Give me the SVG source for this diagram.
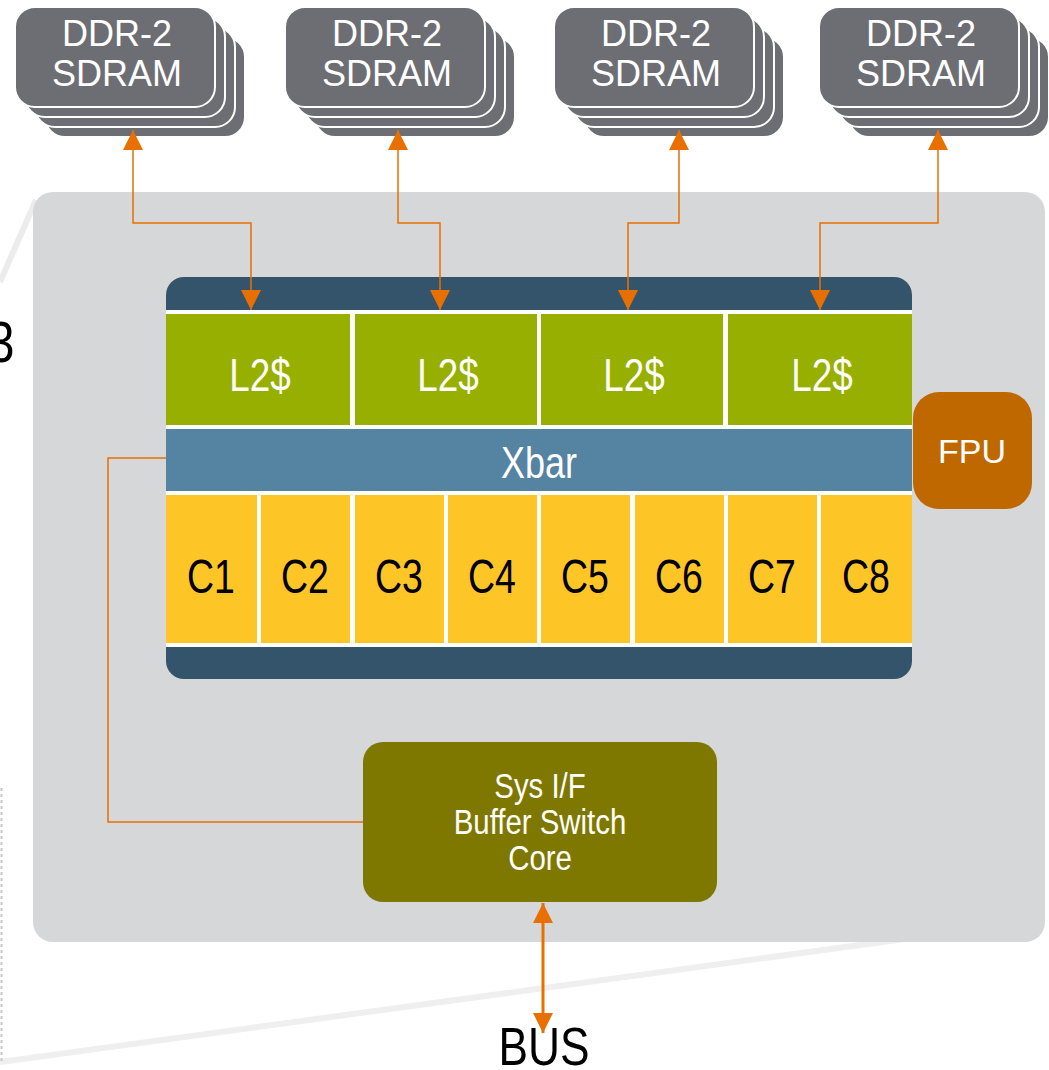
<svg xmlns="http://www.w3.org/2000/svg" width="1049" height="1070" viewBox="0 0 1049 1070">
<style>
.card{fill:#6d6e73;stroke:#ffffff;stroke-width:2}
.ddr{font-family:"Liberation Sans",Arial,sans-serif;font-size:36px;fill:#ffffff;text-anchor:middle}
.narrow{font-family:"Liberation Sans",Arial,sans-serif;text-anchor:middle}
.l2{fill:#97b000}
.core{fill:#fec526}
.wire{fill:none;stroke:#e87000;stroke-width:1.5}
</style>
<defs>
<marker id="ah" viewBox="0 0 20 20" refX="20" refY="10" markerWidth="20" markerHeight="20" markerUnits="userSpaceOnUse" orient="auto-start-reverse">
<path d="M0,0 L20,10 L0,20 Z" fill="#e87000"/>
</marker>
<g id="stackshape">
<rect class="card" x="30" y="30" width="200" height="100" rx="20"/>
<rect class="card" x="20" y="20" width="200" height="100" rx="20"/>
<rect class="card" x="10" y="10" width="200" height="100" rx="20"/>
<rect class="card" x="0" y="0" width="200" height="100" rx="20"/>
</g>
</defs>
<rect width="1049" height="1070" fill="#ffffff"/>
<g id="background">
<line x1="36" y1="200" x2="0" y2="282" stroke="#ececec" stroke-width="6"/>
<line x1="0" y1="1062" x2="1000" y2="926" stroke="#efefef" stroke-width="6"/>
<line x1="1.5" y1="788" x2="1.5" y2="1062" stroke="#c8c8c8" stroke-width="2" stroke-dasharray="3,3"/>
<text transform="translate(-12,362) scale(0.82,1)" font-family="Liberation Sans,Arial,sans-serif" font-size="58" fill="#000000">3</text>
<rect id="panel" x="33" y="192" width="1012" height="750" rx="20" fill="#d6d7d9"/>
</g>

<g id="ddr1" transform="translate(15,7)"><use href="#stackshape"/><text class="ddr" x="102" y="39">DDR-2</text><text class="ddr" x="102" y="79">SDRAM</text></g>
<g id="ddr2" transform="translate(285,7)"><use href="#stackshape"/><text class="ddr" x="102" y="39">DDR-2</text><text class="ddr" x="102" y="79">SDRAM</text></g>
<g id="ddr3" transform="translate(554,7)"><use href="#stackshape"/><text class="ddr" x="102" y="39">DDR-2</text><text class="ddr" x="102" y="79">SDRAM</text></g>
<g id="ddr4" transform="translate(819,7)"><use href="#stackshape"/><text class="ddr" x="102" y="39">DDR-2</text><text class="ddr" x="102" y="79">SDRAM</text></g>

<g id="chip">
<rect x="166" y="277" width="746" height="402" rx="18" fill="#34546b"/>
<rect x="166" y="310" width="746" height="337" fill="#ffffff"/>
</g>
<g id="l2-1"><rect class="l2" x="166" y="314" width="184" height="111"/><text class="narrow" transform="translate(260,391) scale(0.8,1)" font-size="46" fill="#ffffff">L2$</text></g>
<g id="l2-2"><rect class="l2" x="355" y="314" width="182" height="111"/><text class="narrow" transform="translate(448,391) scale(0.8,1)" font-size="46" fill="#ffffff">L2$</text></g>
<g id="l2-3"><rect class="l2" x="541" y="314" width="182" height="111"/><text class="narrow" transform="translate(634,391) scale(0.8,1)" font-size="46" fill="#ffffff">L2$</text></g>
<g id="l2-4"><rect class="l2" x="728" y="314" width="184" height="111"/><text class="narrow" transform="translate(822,391) scale(0.8,1)" font-size="46" fill="#ffffff">L2$</text></g>
<g id="xbar"><rect x="166" y="429" width="746" height="62" fill="#5583a2"/><text class="narrow" transform="translate(539,478) scale(0.8,1)" font-size="45" fill="#ffffff">Xbar</text></g>
<g id="c1"><rect class="core" x="166" y="495" width="91" height="148"/><text class="narrow" transform="translate(211,593) scale(0.78,1)" font-size="48" fill="#000000">C1</text></g>
<g id="c2"><rect class="core" x="261" y="495" width="89" height="148"/><text class="narrow" transform="translate(305,593) scale(0.78,1)" font-size="48" fill="#000000">C2</text></g>
<g id="c3"><rect class="core" x="355" y="495" width="89" height="148"/><text class="narrow" transform="translate(399,593) scale(0.78,1)" font-size="48" fill="#000000">C3</text></g>
<g id="c4"><rect class="core" x="448" y="495" width="89" height="148"/><text class="narrow" transform="translate(492,593) scale(0.78,1)" font-size="48" fill="#000000">C4</text></g>
<g id="c5"><rect class="core" x="541" y="495" width="89" height="148"/><text class="narrow" transform="translate(585,593) scale(0.78,1)" font-size="48" fill="#000000">C5</text></g>
<g id="c6"><rect class="core" x="635" y="495" width="89" height="148"/><text class="narrow" transform="translate(679,593) scale(0.78,1)" font-size="48" fill="#000000">C6</text></g>
<g id="c7"><rect class="core" x="728" y="495" width="89" height="148"/><text class="narrow" transform="translate(772,593) scale(0.78,1)" font-size="48" fill="#000000">C7</text></g>
<g id="c8"><rect class="core" x="821" y="495" width="91" height="148"/><text class="narrow" transform="translate(866,593) scale(0.78,1)" font-size="48" fill="#000000">C8</text></g>

<g id="fpu"><rect x="913" y="392" width="119" height="117" rx="26" fill="#c06800"/><text x="972" y="463" font-family="Liberation Sans,Arial,sans-serif" font-size="34" fill="#ffffff" text-anchor="middle">FPU</text></g>

<g id="sysif"><rect x="363" y="742" width="354" height="160" rx="20" fill="#7f7800"/>
<text class="narrow" transform="translate(540,798) scale(0.84,1)" font-size="35" fill="#ffffff">Sys I/F</text>
<text class="narrow" transform="translate(540,834) scale(0.84,1)" font-size="35" fill="#ffffff">Buffer Switch</text>
<text class="narrow" transform="translate(540,870) scale(0.84,1)" font-size="35" fill="#ffffff">Core</text></g>

<text id="bus" class="narrow" transform="translate(544,1065) scale(0.82,1)" font-size="54" fill="#000000">BUS</text>

<g id="connectors">
<path class="wire" d="M133,130 V223 H251 V310" marker-start="url(#ah)" marker-end="url(#ah)"/>
<path class="wire" d="M398,130 V223 H440 V310" marker-start="url(#ah)" marker-end="url(#ah)"/>
<path class="wire" d="M679,130 V223 H628 V310" marker-start="url(#ah)" marker-end="url(#ah)"/>
<path class="wire" d="M938,130 V223 H820 V310" marker-start="url(#ah)" marker-end="url(#ah)"/>
<path class="wire" d="M166,458 H108 V822 H363"/>
<path d="M543,903 V1033" fill="none" stroke="#e87000" stroke-width="3" marker-start="url(#ah)" marker-end="url(#ah)"/>
</g>
</svg>
